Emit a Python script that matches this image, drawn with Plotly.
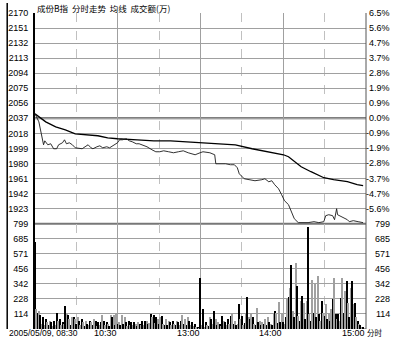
import plotly.graph_objects as go

# ---------------- data ----------------
prev_close = 2037
price_range = [1904, 2170]
price_ticks = [2170, 2151, 2132, 2113, 2094, 2075, 2056, 2037, 2018, 1999, 1980, 1961, 1942, 1923]
pct_labels = ["6.5%", "5.6%", "4.7%", "3.7%", "2.8%", "1.9%", "0.9%", "0.0%",
              "-0.9%", "-1.9%", "-2.8%", "-3.7%", "-4.7%", "-5.6%"]
vol_max = 799
vol_ticks = [114.1, 228.3, 342.4, 456.6, 570.7, 684.9, 799]
vol_labels = ["114", "228", "342", "456", "571", "685", "799"]

time_ticks = [60, 120, 180, 240]
time_labels = ["10:30", "13:00", "14:00", "15:00"]
half_hour_ticks = [30, 90, 150, 210]
start_label = "2005/05/09, 08:30"
end_unit = "分时"
title_text = "成份B指  分时走势  均线  成交额(万)"

price_minutes = [0, 2.8, 6.2, 7.1, 9.3, 11.4, 13.5, 15.7, 17.1, 18.5, 19.9, 21.4, 22.8, 24.9, 27.1,
                 29.2, 32.1, 34.2, 36.3, 38.5, 40.6, 42, 44.9, 47, 49.1, 52, 54.1, 56.3, 59.8,
                 61.3, 63.4, 66.2, 68.4, 70.5, 73.4, 75.5, 77.6, 81.2, 84.8, 87.6, 90.5, 93.3,
                 96.9, 100.4, 104, 107.5, 111.1, 113.2, 116.1, 119.7, 121.8, 126.8, 130.3, 131.1,
                 134.6, 138.2, 141.7, 144.6, 146.7, 148.1, 151.7, 155.3, 159.5, 164.5, 166.7,
                 169.5, 171.7, 173.8, 176.6, 178.8, 180.9, 183.8, 185.9, 188, 190.9, 194.4, 198,
                 202.3, 205.8, 209.4, 210.8, 213, 215.8, 217.2, 218.7, 219.4, 220.8, 223.6, 226.5,
                 227.9, 230.8, 234.3, 237.9]
price_values = [2042.7, 2032.6, 2003.6, 2008.6, 2003.6, 2004.9, 1998.6, 1998.6, 2003.6, 2004.9,
                2006.1, 2009.9, 2004.9, 2006.1, 2003.6, 1999.8, 1998.6, 1998.6, 2001.1, 2003.6,
                1999.8, 1998.6, 2001.1, 2002.3, 1999.8, 2001.1, 1999.8, 2002.3, 2006.1, 2009.9,
                2009.9, 2011.2, 2008.6, 2007.4, 2004.9, 2004.9, 2003.6, 2001.1, 1997.3, 1994.8,
                1994.8, 1996.0, 1994.8, 1993.5, 1994.8, 1996.0, 1993.5, 1992.3, 1991.0, 1993.5,
                1994.8, 1993.5, 1991.0, 1979.6, 1979.6, 1979.6, 1978.4, 1978.4, 1974.6, 1967.0,
                1960.7, 1959.5, 1958.2, 1959.5, 1960.7, 1956.9, 1958.2, 1953.2, 1948.1, 1940.6,
                1933.0, 1928.0, 1919.1, 1910.3, 1905.3, 1905.3, 1905.3, 1906.5, 1905.3, 1906.5,
                1914.1, 1915.3, 1914.1, 1909.0, 1922.9, 1915.3, 1914.1, 1911.6, 1909.0, 1906.5,
                1907.8, 1906.5, 1905.3]

avg_minutes = [0, 7.8, 15, 22, 29.2, 36.3, 45.6, 52.7, 59.8, 74.1, 86.2, 98.3, 109.7, 121.8,
               133.9, 145.3, 157.4, 169.5, 180.2, 183.8, 188, 193, 200.1, 209.4, 216.5, 226.5,
               233.6, 237.9]
avg_values = [2042.7, 2032.6, 2026.3, 2022.5, 2017.5, 2016.2, 2015.0, 2012.4, 2011.2, 2009.9,
              2008.6, 2008.6, 2007.4, 2006.1, 2004.9, 2003.6, 1998.6, 1994.8, 1991.0, 1988.5,
              1982.2, 1975.9, 1969.6, 1962.0, 1959.5, 1957.0, 1953.2, 1951.9]

volume = [
    665, 157, 127, 142, 105, 40, 92, 35, 82, 55, 30, 67, 55, 25, 67, 35, 127, 67, 82, 30,
    55, 40, 180, 120, 105, 82, 35, 92, 92, 82, 40, 92, 67, 30, 82, 55, 25, 67, 42, 30,
    67, 55, 30, 82, 67, 25, 55, 30, 55, 105, 67, 30, 55, 42, 25, 105, 92, 110, 35, 120,
    42, 55, 30, 110, 40, 92, 55, 25, 67, 30, 55, 35, 55, 42, 25, 55, 42, 30, 67, 35,
    67, 67, 40, 50, 120, 92, 110, 45, 92, 82, 40, 92, 100, 42, 35, 82, 30, 67, 55, 30,
    67, 42, 30, 67, 55, 30, 67, 105, 40, 82, 35, 92, 67, 30, 55, 25, 42, 20, 15, 10,
    390, 30, 152, 20, 52, 30, 25, 90, 77, 40, 139, 77, 30, 52, 40, 25, 102, 65, 52, 30,
    77, 40, 102, 115, 40, 65, 30, 40, 189, 77, 102, 35, 50, 127, 247, 90, 77, 127, 90, 40,
    30, 164, 52, 65, 30, 52, 40, 77, 30, 90, 52, 40, 30, 115, 139, 127, 50, 207, 52, 127,
    52, 40, 90, 227, 247, 314, 488, 139, 90, 505, 331, 102, 60, 214, 251, 202, 80, 214, 779, 115,
    60, 376, 127, 351, 90, 401, 115, 60, 214, 127, 102, 189, 77, 115, 60, 152, 227, 388, 115, 80,
    115, 60, 239, 388, 127, 289, 364, 202, 90, 314, 364, 189, 202, 90, 60, 40, 30, 20, 15, 10,
]
vol_minutes = list(range(len(volume)))

# ---------------- styling ----------------
NUM_FONT = "Liberation Sans, Arial, sans-serif"
NUM_SIZE = 9
CJK_FONT = "Noto Sans CJK SC, sans-serif"
GRID = "#a0a0a0"
W, H = 393, 337
ML, MR, MT, MB = 29, 27, 10, 8
pw = W - ML - MR
ph = H - MT - MB

def px_to_paper_x(px):
    return (px - ML) / pw

def px_to_paper_y(py):
    return 1 - (py - MT) / ph

bar_colors = ["#000000" if i % 2 == 0 else "#a0a0a0" for i in vol_minutes]

fig = go.Figure()
fig.add_trace(go.Bar(x=vol_minutes, y=volume, marker=dict(color=bar_colors, line=dict(width=0)),
                     width=0.85, yaxis="y2", xaxis="x", hoverinfo="skip"))
fig.add_trace(go.Scatter(x=avg_minutes, y=avg_values, mode="lines",
                         line=dict(color="#000000", width=1.3), yaxis="y", hoverinfo="skip"))
fig.add_trace(go.Scatter(x=price_minutes, y=price_values, mode="lines",
                         line=dict(color="#1a1a1a", width=0.9), yaxis="y", hoverinfo="skip"))

lab_font = dict(family=NUM_FONT, size=NUM_SIZE, color="#000")
annotations = []
rx = px_to_paper_x(392)
for v, t in zip(price_ticks, pct_labels):
    annotations.append(dict(x=rx, xref="paper", y=v, yref="y", text=t, showarrow=False,
                            xanchor="right", yanchor="middle", font=lab_font))
for v, t in zip(vol_ticks, vol_labels):
    annotations.append(dict(x=rx, xref="paper", y=v, yref="y2", text=t, showarrow=False,
                            xanchor="right", yanchor="middle", font=lab_font))
by = px_to_paper_y(333.5)
for v, t in zip(time_ticks, time_labels):
    annotations.append(dict(x=v, xref="x", y=by, yref="paper", text=t, showarrow=False,
                            xanchor="right", yanchor="middle", borderpad=0, font=lab_font))
annotations.append(dict(x=px_to_paper_x(2), xref="paper", y=by, yref="paper", text=start_label,
                        showarrow=False, xanchor="left", yanchor="middle", borderpad=0,
                        font=dict(family=NUM_FONT, size=8.5, color="#000")))
annotations.append(dict(x=time_ticks[-1], xref="x", y=px_to_paper_y(332.5), yref="paper",
                        text=end_unit, showarrow=False, xanchor="left", yanchor="middle",
                        borderpad=0, font=dict(family=CJK_FONT, size=7.5, color="#000")))
annotations.append(dict(x=0, xref="paper", y=px_to_paper_y(5), yref="paper", text=title_text,
                        showarrow=False, xanchor="left", yanchor="middle",
                        font=dict(family=CJK_FONT, size=8.5, color="#000")))

shapes = [
    dict(type="line", xref="paper", x0=0, x1=1, yref="y", y0=prev_close, y1=prev_close,
         line=dict(color="#555555", width=2), layer="below"),
    dict(type="line", xref="paper", x0=0, x1=1, yref="paper", y0=1/3, y1=1/3,
         line=dict(color="#777777", width=2), layer="below"),
    dict(type="line", xref="paper", x0=1, x1=1, yref="paper", y0=0, y1=1,
         line=dict(color="#555555", width=1)),
    dict(type="line", xref="paper", x0=px_to_paper_x(0.7), x1=px_to_paper_x(0.7),
         yref="paper", y0=px_to_paper_y(329), y1=px_to_paper_y(0),
         line=dict(color="#000000", width=1.5)),
]

axis_common = dict(showgrid=True, gridcolor=GRID, gridwidth=1, zeroline=False, showline=True,
                   linecolor="#000", linewidth=2, ticks="outside", ticklen=3,
                   tickcolor="rgba(0,0,0,0)", tickfont=lab_font, tickmode="array")

fig.update_layout(
    width=W, height=H, margin=dict(l=ML, r=MR, t=MT, b=MB, pad=0),
    paper_bgcolor="white", plot_bgcolor="white", showlegend=False, bargap=0,
    xaxis=dict(range=[0, 240], showticklabels=False, ticks="", showline=False, zeroline=False,
               tickmode="array", tickvals=time_ticks, showgrid=True, gridcolor=GRID, gridwidth=1,
               minor=dict(tickmode="array", tickvals=half_hour_ticks, showgrid=True,
                          gridcolor="#c0c0c0", griddash="dash", gridwidth=1)),
    yaxis=dict(domain=[1/3, 1], range=price_range, tickvals=price_ticks,
               ticktext=[str(v) for v in price_ticks], **axis_common),
    yaxis2=dict(domain=[0, 1/3], range=[0, vol_max], tickvals=vol_ticks,
                ticktext=vol_labels, **axis_common),
    annotations=annotations, shapes=shapes,
)

fig.write_html("out.html")
